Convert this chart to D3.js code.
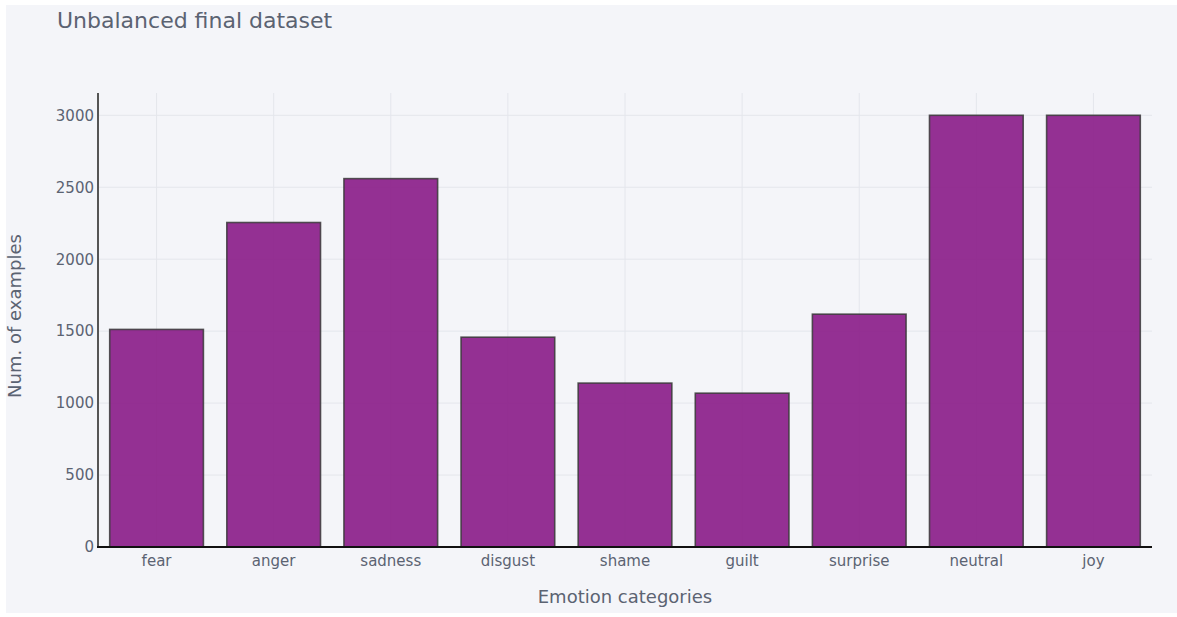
<!DOCTYPE html>
<html>
<head>
<meta charset="utf-8">
<script src="https://cdn.jsdelivr.net/npm/d3@7/dist/d3.min.js"></script>
<style>
  html, body { margin: 0; padding: 0; background: #ffffff; }
  svg { display: block; }
</style>
</head>
<body>
<svg id="chart" width="1177" height="617"></svg>
<script>
// Number of training examples per emotion label
const categories = ["fear", "anger", "sadness", "disgust", "shame", "guilt", "surprise", "neutral", "joy"];
const counts = [1512, 2255, 2560, 1458, 1139, 1069, 1618, 3000, 3000];
const yTicks = [0, 500, 1000, 1500, 2000, 2500, 3000];

const W = 1177, H = 617;
const margin = { left: 98, right: 25, top: 93, bottom: 70 };
const font = "'DejaVu Sans', Verdana, sans-serif";
const textColor = "#5b6372";

const svg = d3.select("#chart");

// Panel background
svg.append("rect")
  .attr("x", 6).attr("y", 5)
  .attr("width", W - 6).attr("height", 608)
  .attr("fill", "#f4f5f9");

const x = d3.scaleBand()
  .domain(categories)
  .range([margin.left, W - margin.right])
  .paddingInner(0.2)
  .paddingOuter(0.1);

const y = d3.scaleLinear()
  .domain([0, 3155])
  .range([H - margin.bottom, margin.top]);

// Grid lines
const grid = svg.append("g");
grid.selectAll("line.h")
  .data(yTicks.filter(d => d > 0))
  .join("line")
  .attr("x1", margin.left).attr("x2", W - margin.right)
  .attr("y1", d => y(d)).attr("y2", d => y(d))
  .attr("stroke", "#e4e6ec").attr("stroke-width", 1);
grid.selectAll("line.v")
  .data(categories)
  .join("line")
  .attr("x1", d => x(d) + x.bandwidth() / 2).attr("x2", d => x(d) + x.bandwidth() / 2)
  .attr("y1", margin.top).attr("y2", H - margin.bottom)
  .attr("stroke", "#e4e6ec").attr("stroke-width", 1);

// Bars
svg.append("g")
  .selectAll("rect")
  .data(categories.map((c, i) => ({ c, v: counts[i] })))
  .join("rect")
  .attr("x", d => x(d.c))
  .attr("y", d => y(d.v))
  .attr("width", x.bandwidth())
  .attr("height", d => y(0) - y(d.v))
  .attr("fill", "rgb(137,27,135)")
  .attr("fill-opacity", 0.9)
  .attr("stroke", "#3a3a3a")
  .attr("stroke-opacity", 0.85)
  .attr("stroke-width", 1.6);

// Y axis
const yAxis = svg.append("g")
  .attr("transform", `translate(${margin.left},0)`)
  .call(d3.axisLeft(y).tickValues(yTicks).tickSize(0).tickPadding(4).tickFormat(d3.format("d")));
yAxis.select(".domain").remove();
yAxis.selectAll("text")
  .attr("font-family", font).attr("font-size", 15).attr("fill", textColor);
svg.append("line")
  .attr("x1", margin.left).attr("x2", margin.left)
  .attr("y1", margin.top).attr("y2", H - margin.bottom)
  .attr("stroke", "#555").attr("stroke-width", 2);

// X axis
const xAxis = svg.append("g")
  .attr("transform", `translate(0,${H - margin.bottom})`)
  .call(d3.axisBottom(x).tickSize(0).tickPadding(8));
xAxis.select(".domain").remove();
xAxis.selectAll("text")
  .attr("font-family", font).attr("font-size", 15).attr("fill", textColor);
svg.append("line")
  .attr("x1", margin.left - 1).attr("x2", W - margin.right)
  .attr("y1", H - margin.bottom).attr("y2", H - margin.bottom)
  .attr("stroke", "#111").attr("stroke-width", 2);

// Titles
svg.append("text")
  .attr("x", 57).attr("y", 28)
  .attr("font-family", font).attr("font-size", 22).attr("fill", textColor)
  .text("Unbalanced final dataset");

svg.append("text")
  .attr("x", (margin.left + W - margin.right) / 2).attr("y", 603)
  .attr("text-anchor", "middle")
  .attr("font-family", font).attr("font-size", 18).attr("fill", textColor)
  .text("Emotion categories");

svg.append("text")
  .attr("transform", `translate(21,316) rotate(-90)`)
  .attr("text-anchor", "middle")
  .attr("font-family", font).attr("font-size", 18).attr("fill", textColor)
  .text("Num. of examples");
</script>
</body>
</html>
